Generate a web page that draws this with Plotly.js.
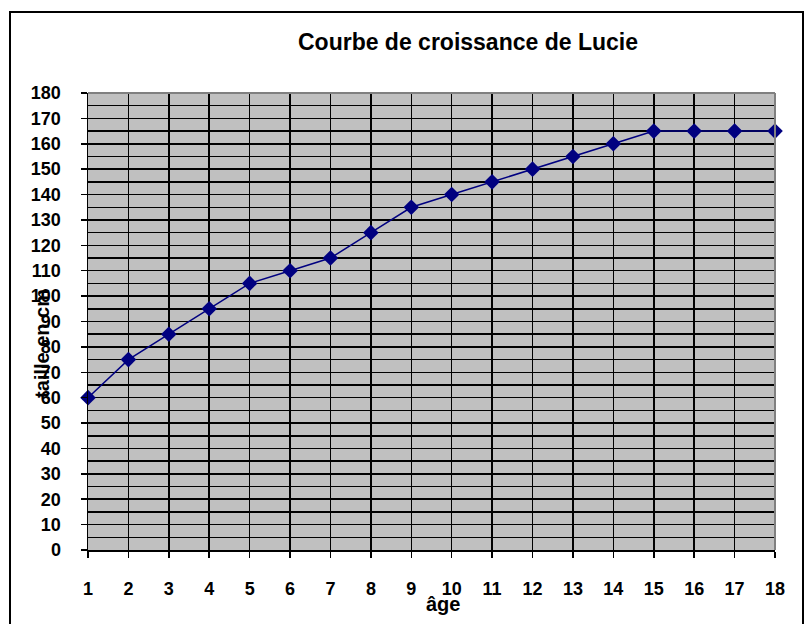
<!DOCTYPE html>
<html>
<head>
<meta charset="utf-8">
<script src="https://cdn.plot.ly/plotly-3.0.1.min.js"></script>
<style>
html,body{margin:0;padding:0;background:#fff;}
#chart{width:811px;height:624px;}
</style>
</head>
<body>
<div id="chart"></div>
<script>
const ages = [1,2,3,4,5,6,7,8,9,10,11,12,13,14,15,16,17,18];
const tailles = [60,75,85,95,105,110,115,125,135,140,145,150,155,160,165,165,165,165];
const titre = "Courbe de croissance de Lucie";
const titreX = "âge";
const titreY = "taille en cm";

const F = "Liberation Sans, Arial, sans-serif";
const trace = {
  x: ages, y: tailles, type: 'scatter', mode: 'lines+markers',
  line: {color: '#000080', width: 1.5},
  marker: {symbol: 'diamond', size: 12, color: '#000080'},
  cliponaxis: false, hoverinfo: 'none'
};
const L = 88, R = 775, T = 93, B = 550, W = 811, H = 624;
const pw = R - L, ph = B - T;
const px = v => (v - L) / pw;
const py = v => (B - v) / ph;
const layout = {
  width: W, height: H,
  margin: {l: L, r: W - R, t: T, b: H - B, pad: 0},
  paper_bgcolor: '#ffffff', plot_bgcolor: '#c0c0c0',
  showlegend: false,
  title: {text: '<b>' + titre + '</b>', font: {family: F, size: 23, color: '#000'},
          x: px(468), xref: 'paper', xanchor: 'center', y: 1 - 42 / H, yanchor: 'middle'},
  xaxis: {
    range: [1, 18], tickmode: 'linear', tick0: 1, dtick: 1,
    showgrid: true, gridcolor: '#000', gridwidth: 1.5,
    showline: true, linecolor: '#000', linewidth: 1.5,
    ticks: 'outside', ticklen: 6, tickcolor: '#000', tickwidth: 1.5,
    ticklabelstandoff: 16,
    tickfont: {family: F, size: 18, color: '#000', weight: 'bold'},
    zeroline: false, fixedrange: true
  },
  yaxis: {
    range: [0, 180], tickmode: 'linear', tick0: 0, dtick: 10,
    showgrid: true, gridcolor: '#000', gridwidth: 1.5,
    minor: {dtick: 5, showgrid: true, gridcolor: '#000', gridwidth: 1.5, ticks: ''},
    showline: true, linecolor: '#000', linewidth: 1.5,
    ticks: 'outside', ticklen: 6, tickcolor: '#000', tickwidth: 1.5,
    ticklabelstandoff: 16,
    tickfont: {family: F, size: 18, color: '#000', weight: 'bold'},
    zeroline: false, fixedrange: true
  },
  shapes: [
    {type: 'rect', xref: 'paper', yref: 'paper', x0: px(10), x1: px(803), y0: py(640), y1: py(12),
     line: {color: '#000', width: 2}, fillcolor: 'rgba(0,0,0,0)', layer: 'above'},
    {type: 'line', xref: 'paper', yref: 'paper', x0: 0, x1: 1, y0: 1, y1: 1,
     line: {color: '#808080', width: 2}, layer: 'above'},
    {type: 'line', xref: 'paper', yref: 'paper', x0: 1, x1: 1, y0: 0, y1: 1,
     line: {color: '#808080', width: 2}, layer: 'above'}
  ],
  annotations: [
    {text: '<b>' + titreX + '</b>', xref: 'paper', yref: 'paper', x: px(443), y: py(604),
     xanchor: 'center', yanchor: 'middle', showarrow: false,
     font: {family: F, size: 20, color: '#000'}},
    {text: '<b>' + titreY + '</b>', xref: 'paper', yref: 'paper', x: px(42), y: py(344),
     xanchor: 'center', yanchor: 'middle', showarrow: false, textangle: -90,
     font: {family: F, size: 20, color: '#000'}}
  ]
};
Plotly.newPlot('chart', [trace], layout, {displayModeBar: false, staticPlot: true});
</script>
</body>
</html>
